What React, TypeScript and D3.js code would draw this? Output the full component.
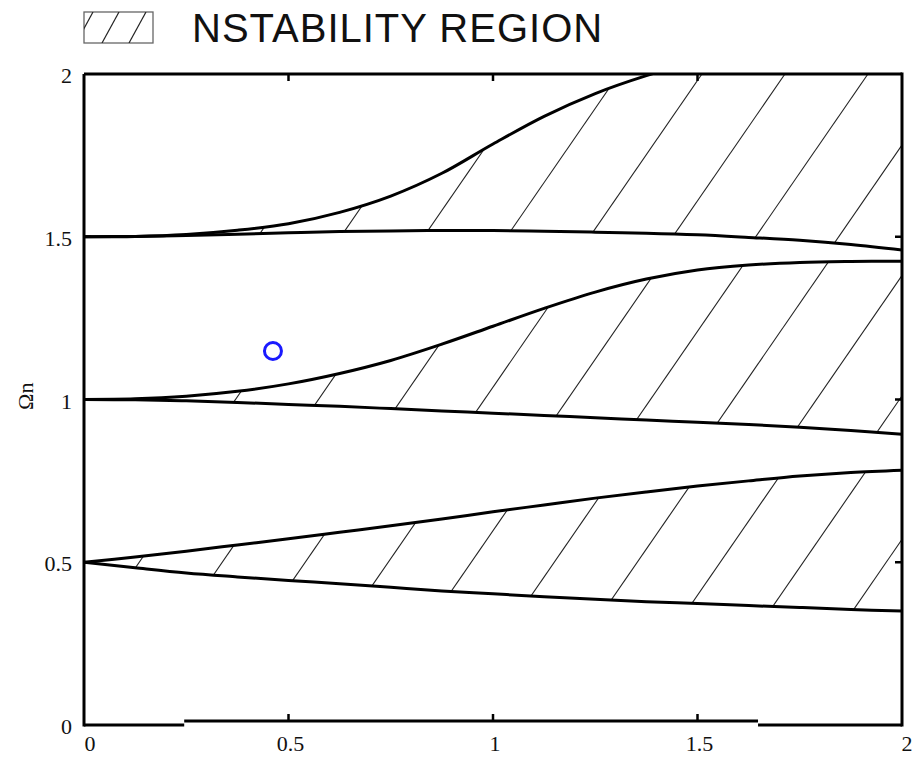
import React from "react";
import * as d3 from "d3";

// sample positions along the horizontal axis
const xGrid = [0, 0.125, 0.25, 0.375, 0.5, 0.625, 0.75, 0.875, 1, 1.125, 1.25, 1.375, 1.5, 1.625, 1.75, 1.875, 2];

// band boundaries
const lowBandBottom = [0.5, 0.483, 0.467, 0.455, 0.444, 0.434, 0.423, 0.412, 0.403, 0.394, 0.386, 0.379, 0.373, 0.367, 0.361, 0.355, 0.35];
const lowBandTop = [0.5, 0.516, 0.534, 0.553, 0.572, 0.592, 0.612, 0.633, 0.655, 0.676, 0.697, 0.716, 0.734, 0.75, 0.765, 0.776, 0.783];
const midBandBottom = [1, 0.999, 0.996, 0.991, 0.985, 0.979, 0.972, 0.965, 0.958, 0.951, 0.944, 0.937, 0.93, 0.923, 0.915, 0.905, 0.893];
const midBandTop = [1, 1.002, 1.01, 1.025, 1.048, 1.08, 1.12, 1.17, 1.225, 1.28, 1.33, 1.37, 1.398, 1.413, 1.421, 1.424, 1.425];
const highBandBottom = [1.5, 1.501, 1.504, 1.508, 1.512, 1.516, 1.518, 1.519, 1.519, 1.517, 1.514, 1.511, 1.506, 1.498, 1.489, 1.476, 1.459];
const highBandTop = [1.5, 1.501, 1.507, 1.52, 1.54, 1.575, 1.625, 1.695, 1.785, 1.87, 1.94, 1.995, 2.04, 2.07, 2.09, 2.1, 2.11];

const bands = [
  { id: "low", lower: lowBandBottom, upper: lowBandTop, phase: 26 },
  { id: "mid", lower: midBandBottom, upper: midBandTop, phase: 10 },
  { id: "high", lower: highBandBottom, upper: highBandTop, phase: 3 },
];

const xTicks = [0, 0.5, 1, 1.5, 2];
const yTicks = [0, 0.5, 1, 1.5, 2];
const xTickLabels = ["0", "0.5", "1", "1.5", "2"];
const yTickLabels = ["0", "0.5", "1", "1.5", "2"];

// operating point
const pointX = 0.462;
const pointY = 1.149;

const legendLabel = "NSTABILITY REGION";
const yAxisLabel = "\u03A9n";

const width = 916;
const height = 758;
const plot = { left: 84, right: 902, top: 74, bottom: 725 };

const x = d3.scaleLinear().domain([0, 2]).range([plot.left, plot.right]);
const y = d3.scaleLinear().domain([0, 2]).range([plot.bottom, plot.top]);

const hatchSpacing = 83;
const hatchSlope = 1.45;

const serif = "'Liberation Serif', 'DejaVu Serif', serif";
const sans = "'Liberation Sans', Arial, sans-serif";

export default function App() {
  const line = d3
    .line<number>()
    .x((d, i) => x(xGrid[i]))
    .y((d) => y(d))
    .curve(d3.curveCatmullRom);

  const area = (lower: number[], upper: number[]) =>
    d3
      .area<number>()
      .x((d, i) => x(xGrid[i]))
      .y0((d, i) => y(lower[i]))
      .y1((d, i) => y(upper[i]))
      .curve(d3.curveCatmullRom)(xGrid) || "";

  const rise = plot.bottom - plot.top;
  const hatchIdx = d3.range(-8, 12);

  // the bottom axis has a slightly raised middle piece in the original
  const breakA = x(0.245);
  const breakB = x(1.648);

  return (
    <svg width={width} height={height} style={{ position: "absolute", left: 0, top: 0, background: "#fff" }}>
      <defs>
        <clipPath id="plotClip">
          <rect x={plot.left} y={plot.top} width={plot.right - plot.left} height={plot.bottom - plot.top} />
        </clipPath>
        {bands.map((b) => (
          <clipPath id={`clip-${b.id}`} key={b.id}>
            <path d={area(b.lower, b.upper)} />
          </clipPath>
        ))}
        <clipPath id="legendClip">
          <rect x={84} y={12} width={69} height={31} />
        </clipPath>
      </defs>

      {/* legend */}
      <rect x={84} y={12} width={69} height={31} fill="none" stroke="#666" strokeWidth={1.3} />
      <g clipPath="url(#legendClip)" stroke="#222" strokeWidth={1.2}>
        {[76, 102, 129].map((bx) => (
          <line key={bx} x1={bx} y1={43} x2={bx + 17} y2={12} />
        ))}
      </g>
      <text x={192} y={42} fontFamily={sans} fontSize={40} letterSpacing={1} fill="#111">
        {legendLabel}
      </text>

      <g clipPath="url(#plotClip)">
        {/* hatching */}
        {bands.map((b) => (
          <g key={b.id} clipPath={`url(#clip-${b.id})`} stroke="#222" strokeWidth={1.1}>
            {hatchIdx.map((k) => {
              const xb = plot.left + b.phase + k * hatchSpacing;
              return <line key={k} x1={xb} y1={plot.bottom} x2={xb + rise / hatchSlope} y2={plot.top} />;
            })}
          </g>
        ))}

        {/* band boundaries */}
        <g fill="none" stroke="#000" strokeWidth={3}>
          {bands.map((b) => (
            <g key={b.id}>
              <path d={line(b.lower) || ""} />
              <path d={line(b.upper) || ""} />
            </g>
          ))}
        </g>
      </g>

      {/* frame */}
      <g stroke="#000" strokeWidth={3} fill="none">
        <line x1={plot.left} y1={plot.top} x2={plot.right} y2={plot.top} />
        <line x1={plot.left} y1={plot.top} x2={plot.left} y2={plot.bottom + 1.5} />
        <line x1={plot.right} y1={plot.top - 1.5} x2={plot.right} y2={plot.bottom + 1.5} />
        <line x1={plot.left} y1={plot.bottom} x2={breakA} y2={plot.bottom} />
        <line x1={breakA} y1={plot.bottom - 4} x2={breakB} y2={plot.bottom - 4} />
        <line x1={breakB} y1={plot.bottom} x2={plot.right} y2={plot.bottom} />
      </g>

      {/* ticks */}
      <g stroke="#000" strokeWidth={2.5}>
        {xTicks.slice(1, -1).map((t) => (
          <g key={t}>
            <line x1={x(t)} y1={plot.bottom - 4} x2={x(t)} y2={plot.bottom - 11} />
            <line x1={x(t)} y1={plot.top} x2={x(t)} y2={plot.top + 7} />
          </g>
        ))}
        {yTicks.slice(1, -1).map((t) => (
          <g key={t}>
            <line x1={plot.left} y1={y(t)} x2={plot.left + 7} y2={y(t)} />
            <line x1={plot.right} y1={y(t)} x2={plot.right - 7} y2={y(t)} />
          </g>
        ))}
      </g>

      {/* tick labels */}
      <g fontFamily={serif} fontSize={22} fill="#111">
        {xTicks.map((t, i) => (
          <text key={t} x={x(t) + (i === 0 ? 6 : i === xTicks.length - 1 ? 5 : 2)} y={751} textAnchor="middle">
            {xTickLabels[i]}
          </text>
        ))}
        {yTicks.map((t, i) => (
          <text key={t} x={72} y={y(t) + 9} textAnchor="end">
            {yTickLabels[i]}
          </text>
        ))}
      </g>

      <text
        transform={`translate(33, ${y(1.01)}) rotate(-90)`}
        textAnchor="middle"
        fontFamily={serif}
        fontSize={22}
        fill="#111"
      >
        {yAxisLabel}
      </text>

      {/* operating point */}
      <circle cx={x(pointX)} cy={y(pointY)} r={8.5} fill="none" stroke="#1a1aff" strokeWidth={3} />
    </svg>
  );
}
